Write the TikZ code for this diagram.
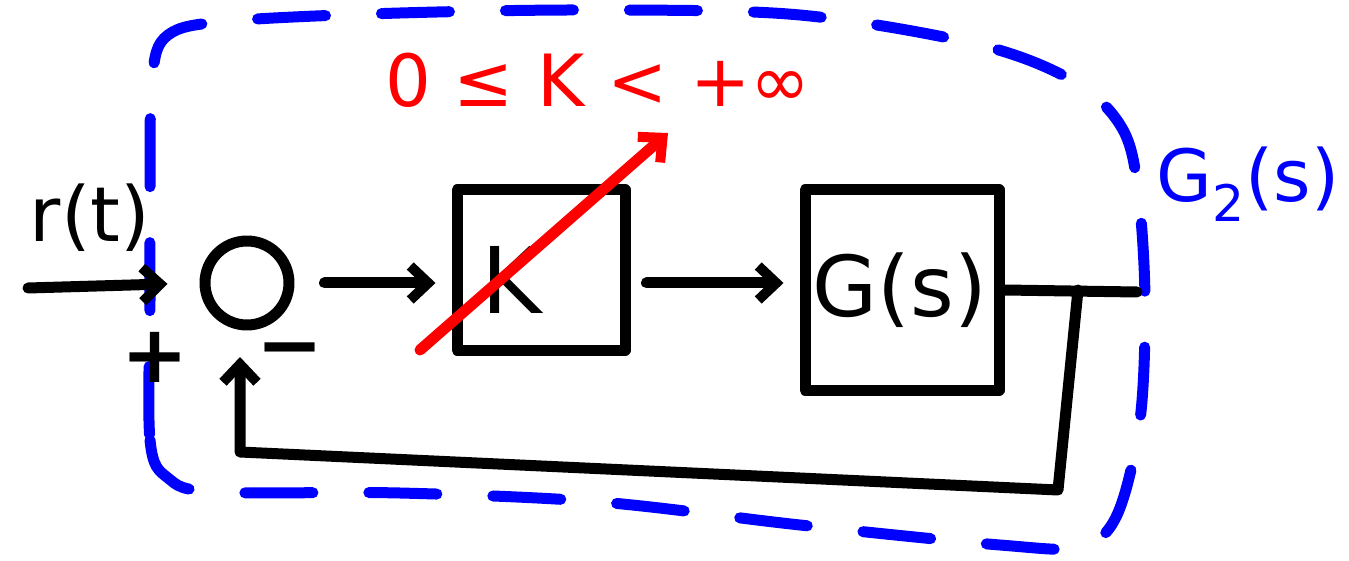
\documentclass[tikz,border=0pt]{standalone}
\usepackage{fontspec}
\setmainfont{DejaVu Sans}
\usetikzlibrary{arrows.meta}
\tikzset{
  ink/.style={line width=5.5pt, line cap=round, line join=round},
  tip/.style={-{Straight Barb[length=9pt,width=17pt,line width=5pt]}},
  blk/.style={ink, draw=black, rectangle, inner sep=0pt},
  lbl/.style={font=\fontsize{44}{50}\selectfont, inner sep=0pt},
}
\begin{document}
\begin{tikzpicture}[x=0.5pt,y=-0.5pt]
\useasboundingbox (0,0) rectangle (1349,561);
% blue boundary
\draw[ink, blue, dash pattern=on 34pt off 28pt]
  plot[smooth cycle, tension=0.55] coordinates {
  (150,300) (150,440) (168,478) (215,492) (400,493) (600,502) (800,525)
  (1000,545) (1080,547) (1117,515) (1140,420) (1145,300) (1138,190)
  (1122,128) (1075,82) (980,45) (800,15) (600,10) (400,13) (230,21)
  (168,35) (152,80) (150,200)};
% nodes
\node[ink, draw=black, circle, minimum size=42pt, inner sep=0pt] (sum) at (247,283) {};
\node[blk, minimum width=84pt, minimum height=80pt] (K) at (541,270) {};
\node[lbl, font=\fontsize{46}{50}\selectfont] (Kl) at (512,280) {K};
\node[blk, minimum width=97pt, minimum height=100pt] (G) at (902,290) {};
\node[lbl, font=\fontsize{42}{50}\selectfont] (Gl) at (900,290) {G(s)};
\node[lbl, font=\fontsize{38}{46}\selectfont] (r) at (90,218) {r(t)};
\node[lbl, font=\fontsize{36}{42}\selectfont, text=blue] (G2) at (1248,184) {G\textsubscript{2}(s)};
\node[lbl, font=\fontsize{36}{42}\selectfont, text=red] (kr) at (598,80) {0 ≤ K < +∞};
\node[lbl, font=\fontsize{40}{46}\selectfont\bfseries, anchor=base] (plus) at (155,382) {+};
\node[lbl, font=\fontsize{40}{46}\selectfont\bfseries, anchor=base] (minus) at (290,372) {−};
% coordinates
\coordinate (in) at (28,288);
\coordinate (out) at (1137,292);
\coordinate (br) at (1078,290);
\coordinate (fb1) at (1058,490);
\coordinate (fb2) at (240,452);
\coordinate (fb3) at (240,357);
\coordinate (ra) at (420,350);
\coordinate (rb) at (668,133);
% connectors
\draw[ink, tip, shorten >=16pt] (in) -- (sum.west);
\draw[ink, tip, shorten <=15pt, shorten >=8pt] (sum.east) -- (sum.east -| K.west);
\draw[ink, tip, shorten <=8pt, shorten >=8pt] (K.east |- sum.east) -- (G.west |- sum.east);
\draw[ink] (G.east) -- (out);
\draw[ink, tip] (br) -- (fb1) -- (fb2) -- (fb3);
\draw[ink, red, tip] (ra) -- (rb);
\end{tikzpicture}
\end{document}
